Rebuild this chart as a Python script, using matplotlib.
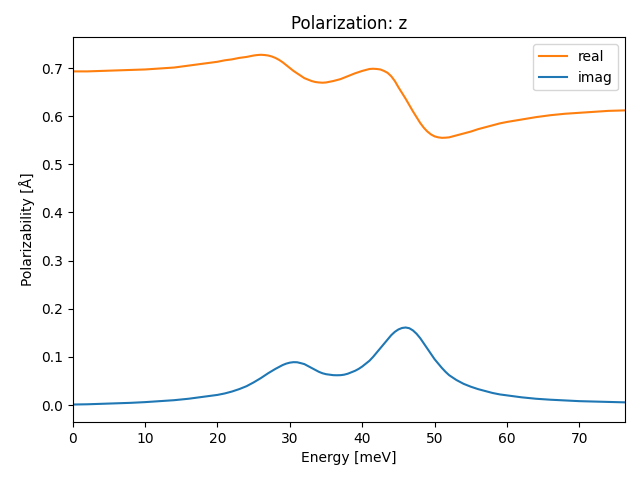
import matplotlib.pyplot as plt
import matplotlib

matplotlib.use('agg')

# values
energy_real = [0, 2, 4, 6, 8, 10, 12, 14, 16, 18, 20, 21, 22, 23, 24, 25, 25.5, 26,
               26.5, 27, 27.5, 28, 28.5, 29, 29.5, 30, 30.5, 31, 31.5, 32, 32.5, 33,
               33.5, 34, 34.5, 35, 36, 37, 38, 39, 40, 40.5, 41, 41.5, 42, 42.5, 43,
               43.5, 44, 44.5, 45, 45.5, 46, 46.5, 47, 47.5, 48, 48.5, 49, 49.5, 50,
               50.5, 51, 51.5, 52, 53, 54, 55, 56, 57, 58, 59, 60, 62, 64, 66, 68,
               70, 72, 74, 76.3]
pol_real = [0.693, 0.693, 0.694, 0.695, 0.696, 0.697, 0.699, 0.701, 0.705, 0.709,
            0.713, 0.716, 0.718, 0.721, 0.723, 0.726, 0.727, 0.7275, 0.727, 0.726,
            0.724, 0.721, 0.717, 0.712, 0.706, 0.700, 0.694, 0.689, 0.684, 0.679,
            0.676, 0.673, 0.671, 0.670, 0.6695, 0.670, 0.673, 0.677, 0.683, 0.689,
            0.694, 0.696, 0.698, 0.6985, 0.698, 0.697, 0.694, 0.690, 0.683, 0.673,
            0.660, 0.648, 0.636, 0.623, 0.610, 0.598, 0.586, 0.576, 0.568, 0.562,
            0.558, 0.556, 0.555, 0.5553, 0.556, 0.560, 0.564, 0.568, 0.573, 0.577,
            0.581, 0.585, 0.588, 0.593, 0.598, 0.602, 0.605, 0.607, 0.609, 0.611,
            0.612]

energy_imag = [0, 2, 4, 6, 8, 10, 12, 14, 16, 18, 20, 21, 22, 23, 24, 25, 26, 27, 28,
               28.5, 29, 29.5, 30, 30.5, 31, 31.5, 32, 32.5, 33, 33.5, 34, 34.5, 35,
               35.5, 36, 36.5, 37, 37.5, 38, 38.5, 39, 39.5, 40, 40.5, 41, 41.5, 42,
               42.5, 43, 43.5, 44, 44.5, 45, 45.5, 46, 46.5, 47, 47.5, 48, 48.5, 49,
               49.5, 50, 50.5, 51, 51.5, 52, 52.5, 53, 54, 55, 56, 57, 58, 59, 60, 62,
               64, 66, 68, 70, 72, 74, 76.3]
pol_imag = [0.001, 0.0015, 0.0025, 0.0035, 0.0045, 0.006, 0.008, 0.010, 0.013, 0.017,
            0.021, 0.024, 0.028, 0.033, 0.039, 0.047, 0.056, 0.066, 0.075, 0.079,
            0.083, 0.086, 0.088, 0.089, 0.0888, 0.087, 0.085, 0.081, 0.077, 0.073,
            0.069, 0.066, 0.064, 0.063, 0.062, 0.0618, 0.062, 0.063, 0.065, 0.068,
            0.071, 0.075, 0.080, 0.086, 0.092, 0.100, 0.109, 0.118, 0.127, 0.136,
            0.145, 0.152, 0.157, 0.160, 0.161, 0.1595, 0.155, 0.148, 0.139, 0.128,
            0.117, 0.106, 0.095, 0.086, 0.077, 0.069, 0.062, 0.057, 0.052, 0.044,
            0.038, 0.033, 0.029, 0.025, 0.022, 0.020, 0.016, 0.013, 0.011, 0.0095,
            0.008, 0.0072, 0.0064, 0.0055]

fig, ax = plt.subplots(figsize=(6.4, 4.8), dpi=100)
ax.plot(energy_real, pol_real, color='C1', label='real')
ax.plot(energy_imag, pol_imag, color='C0', label='imag')
ax.set_xlim(energy_real[0], energy_real[-1])
ax.set_title('Polarization: z')
ax.set_xlabel('Energy [meV]')
ax.set_ylabel('Polarizability [Å]')
ax.legend(loc='upper right')
fig.subplots_adjust(left=0.1136, right=0.9766, top=0.9223, bottom=0.1208)
fig.savefig('out.png')
plt.close(fig)
